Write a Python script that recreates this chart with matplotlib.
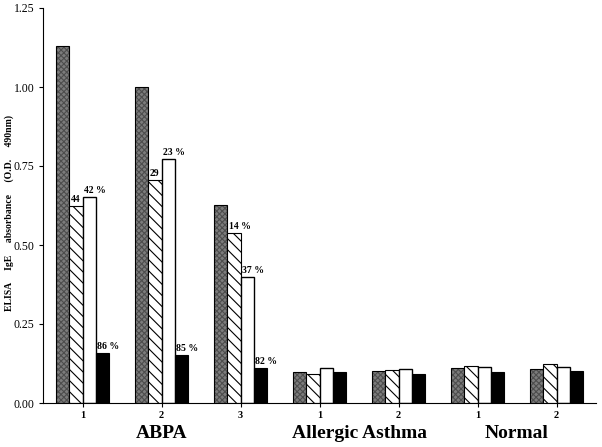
import matplotlib.pyplot as plt
import numpy as np

plt.rcParams['font.family'] = ['Liberation Serif', 'DejaVu Serif']
plt.rcParams['hatch.linewidth'] = 0.8

# subjects (tick labels) and their groups
tick_labels = ['1', '2', '3', '1', '2', '1', '2']
groups = ['ABPA', 'Allergic Asthma', 'Normal']
group_members = [[0, 1, 2], [3, 4], [5, 6]]

# IgE absorbance for the four conditions per subject
gray_vals = [1.129, 0.999, 0.627, 0.097, 0.101, 0.111, 0.107]
hatch_vals = [0.623, 0.705, 0.539, 0.093, 0.105, 0.116, 0.122]
white_vals = [0.653, 0.772, 0.398, 0.110, 0.109, 0.113, 0.113]
black_vals = [0.157, 0.151, 0.112, 0.098, 0.091, 0.097, 0.100]

# percentage labels above bars (None = no label)
hatch_pct = ['44', '29', '14 %', None, None, None, None]
white_pct = ['42 %', '23 %', '37 %', None, None, None, None]
black_pct = ['86 %', '85 %', '82 %', None, None, None, None]

fig = plt.figure(figsize=(6.02, 4.47), dpi=100)
ax = fig.add_axes([43 / 602, 44 / 447, 553 / 602, 395 / 447])

x = np.arange(len(tick_labels))
w = 0.167

bars_g = ax.bar(x - 1.5 * w, gray_vals, w, color='#7c7c7c', edgecolor='black',
                lw=0.8, hatch='xxxxxx')
for b in bars_g:
    b._hatch_color = (0.3, 0.3, 0.3, 1)
bars_h = ax.bar(x - 0.5 * w, hatch_vals, w, color='white', edgecolor='black',
                lw=0.8, hatch='\\\\\\')
bars_w = ax.bar(x + 0.5 * w, white_vals, w, color='white', edgecolor='black', lw=1)
bars_b = ax.bar(x + 1.5 * w, black_vals, w, color='black', edgecolor='black', lw=0.8)

for bars, labels in [(bars_h, hatch_pct), (bars_w, white_pct), (bars_b, black_pct)]:
    for b, lab in zip(bars, labels):
        if lab:
            ax.text(b.get_x() + 0.02, b.get_height() + 0.006, lab, fontsize=7,
                    fontweight='bold', ha='left', va='bottom')

ax.set_xlim(-0.5, 6.5)
ax.set_ylim(0, 1.25)
ax.set_yticks([0, 0.25, 0.5, 0.75, 1.0, 1.25])
ax.set_yticklabels(['0.00', '0.25', '0.50', '0.75', '1.00', '1.25'], fontsize=8.5)
ax.set_xticks(x)
ax.set_xticklabels(tick_labels, fontsize=7.5, fontweight='bold')
ax.tick_params(direction='out', length=3, width=0.8, pad=3)
ax.spines['top'].set_visible(False)
ax.spines['right'].set_visible(False)

ax.set_ylabel('ELISA     IgE     absorbance     (O.D.     490nm)', fontsize=7,
              fontweight='bold')
ax.yaxis.set_label_coords(-0.052, 0.48)

for name, members in zip(groups, group_members):
    ax.text(np.mean(members), -0.077, name, fontsize=14, fontweight='bold',
            ha='center', va='center', transform=ax.get_xaxis_transform())

fig.savefig('out.png', dpi=100)
